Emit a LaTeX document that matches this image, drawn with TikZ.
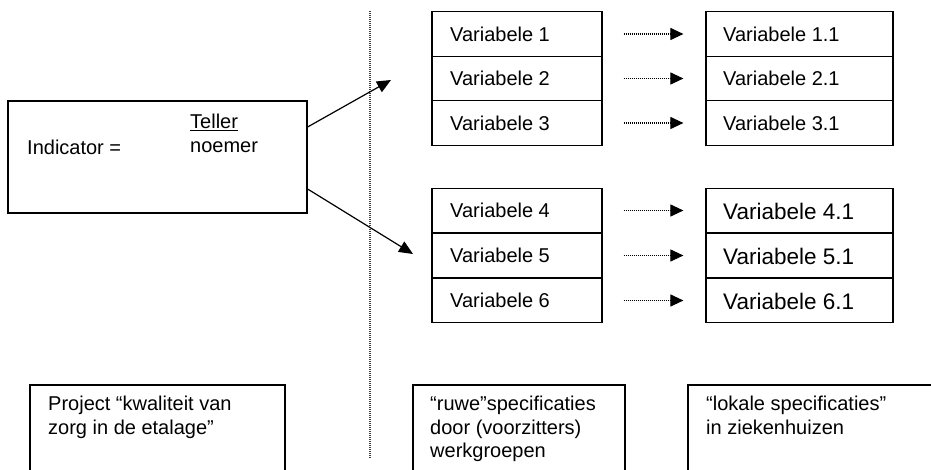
\documentclass[tikz,border=0pt]{standalone}
\usepackage{fontspec}
\setmainfont{Liberation Sans}
\usetikzlibrary{arrows.meta}
\begin{document}
\begin{tikzpicture}[x=1pt,y=-1pt,
  box/.style={draw, line width=1.2pt, rectangle, inner sep=0pt},
  lrow/.style={box, minimum width=170pt, minimum height=44.5pt},
  rrow/.style={box, minimum width=187pt, minimum height=44.5pt},
  lbl/.style={anchor=west, inner sep=0pt, font=\fontsize{20}{24}\selectfont},
  biglbl/.style={anchor=west, inner sep=0pt, font=\fontsize{22.5}{26}\selectfont},
  dotarrow/.style={line width=1.1pt, dash pattern=on 1pt off 1pt, -{Triangle[length=13pt,width=12pt]}, shorten <=21pt, shorten >=22pt},
  mainarrow/.style={line width=1.2pt, -{Triangle[length=14pt,width=12pt]}},
  txt/.style={anchor=north west, inner sep=0pt, align=left, font=\fontsize{20}{23.5}\selectfont}
]
\useasboundingbox (0,0) rectangle (931,470);

% indicator box
\node[box, minimum width=299pt, minimum height=112pt] (ind) at (157.5,157) {};
\node[lbl] (indl) at (27,147) {Indicator =};
\node[lbl] (tel) at (190,122) {\underline{Teller}};
\node[lbl] (noe) at (190,147) {noemer};

% dotted divider
\coordinate (d1) at (370,11);
\coordinate (d2) at (370,459);
\draw[line width=1.1pt, dash pattern=on 1pt off 1pt, black!75] (d1) -- (d2);

% left column
\node[lrow] (v1) at (517,34) {};
\node[lrow] (v2) at (517,78.5) {};
\node[lrow] (v3) at (517,123) {};
\node[lrow] (v4) at (517,210.5) {};
\node[lrow] (v5) at (517,255.5) {};
\node[lrow] (v6) at (517,300.5) {};
\node[lbl] at (450,34) {Variabele 1};
\node[lbl] at (450,78.5) {Variabele 2};
\node[lbl] at (450,123) {Variabele 3};
\node[lbl] at (450,210.5) {Variabele 4};
\node[lbl] at (450,255.5) {Variabele 5};
\node[lbl] at (450,300.5) {Variabele 6};

% right column
\node[rrow] (w1) at (799.5,34) {};
\node[rrow] (w2) at (799.5,78.5) {};
\node[rrow] (w3) at (799.5,123) {};
\node[rrow] (w4) at (799.5,210.5) {};
\node[rrow] (w5) at (799.5,255.5) {};
\node[rrow] (w6) at (799.5,300.5) {};
\node[lbl] at (723,34) {Variabele 1.1};
\node[lbl] at (723,78.5) {Variabele 2.1};
\node[lbl] at (723,123) {Variabele 3.1};
\node[biglbl] at (723,211) {Variabele 4.1};
\node[biglbl] at (723,256) {Variabele 5.1};
\node[biglbl] at (723,301) {Variabele 6.1};

% dotted arrows
\foreach \i in {1,...,6} {
  \draw[dotarrow] (v\i.east) -- (w\i.west);
}

% main arrows
\coordinate (t1) at (391,80);
\coordinate (t2) at (413,254);
\draw[mainarrow] ([yshift=30pt]ind.east) -- (t1);
\draw[mainarrow] ([yshift=-32pt]ind.east) -- (t2);

% bottom boxes
\begin{scope}
\clip (0,0) rectangle (931,470);
\node[box, minimum width=255pt, minimum height=92pt] (b1) at (157.5,431) {};
\node[box, minimum width=212pt, minimum height=92pt] (b2) at (519,431) {};
\node[box, minimum width=260pt, minimum height=92pt] (b3) at (818,431) {};
\end{scope}
\node[txt] at (48,396) {Project “kwaliteit van\\zorg in de etalage”};
\node[txt] at (430,396) {“ruwe”specificaties\\door (voorzitters)\\werkgroepen};
\node[txt] at (706,396) {“lokale specificaties”\\in ziekenhuizen};
\end{tikzpicture}
\end{document}
